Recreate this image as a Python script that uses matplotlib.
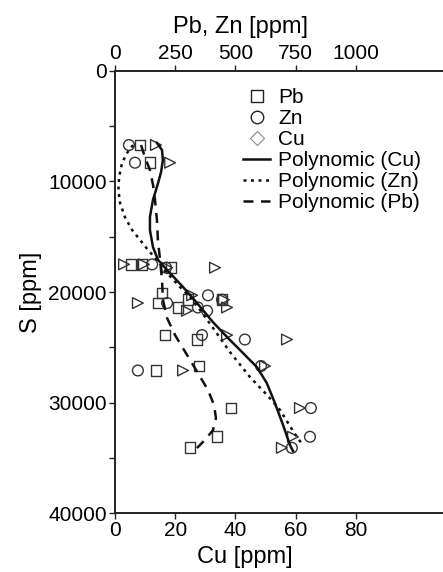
import matplotlib.pyplot as plt
import numpy as np
from matplotlib.lines import Line2D

plt.rcParams['font.family'] = ['Liberation Sans', 'DejaVu Sans']

# Pb (top axis, ppm) vs S
pb_s = [6700, 8300, 17500, 17500, 17800, 20100, 21000, 21400, 20700, 20700,
        23900, 24300, 27100, 26700, 30500, 33100, 34100]
pb_ppm = [104, 145, 66, 112, 232, 195, 178, 261, 303, 444,
          207, 340, 170, 349, 481, 423, 311]

# Zn (top axis, ppm) vs S
zn_s = [6700, 8300, 17500, 17800, 21000, 20300, 20700, 21400, 21700,
        23900, 24300, 27100, 26700, 30500, 33100, 34100]
zn_ppm = [58, 83, 154, 212, 216, 386, 444, 344, 382,
          361, 539, 95, 606, 813, 809, 734]

# Cu (bottom axis, ppm) vs S
cu_s = [6700, 8300, 17500, 17500, 17800, 17800, 21000, 20300, 21400, 21700,
        20700, 23900, 24300, 27100, 26700, 30500, 33100, 34100]
cu_ppm = [13.6, 18.3, 3.0, 9.6, 17.3, 33.2, 7.6, 25.6, 37.2, 23.9,
          36.2, 37.2, 57.1, 22.6, 49.8, 61.4, 59.1, 55.4]

# polynomial trendlines
fit_cu_s = [6500, 7150, 8050, 9140, 10140, 11670, 13210, 14390, 15930, 17100,
            18010, 19550, 20990, 22720, 24160, 25250, 26790, 28240, 30050,
            32040, 33850, 34390]
fit_cu = [13.9, 15.6, 15.9, 15.3, 14.3, 12.6, 11.6, 11.6, 12.6, 14.3,
          17.3, 22.6, 27.2, 32.5, 37.5, 41.5, 47.1, 50.4, 53.1,
          55.8, 58.1, 59.1]
fit_zn_s = [6700, 7420, 8330, 9590, 10770, 11950, 13210, 14390, 15290, 16200,
            17100, 18280, 19550, 20450, 21630, 23260, 25430, 27690, 29320,
            30680, 32130, 33120, 33850]
fit_zn = [75, 50, 29, 17, 14, 21, 41, 71, 104, 137,
          174, 216, 270, 311, 353, 407, 477, 560, 631,
          685, 726, 755, 780]
fit_pb_s = [6700, 7780, 8960, 10320, 11670, 13480, 15290, 17100, 18910, 20720,
            22350, 23890, 25700, 27330, 28870, 30230, 31400, 32490, 33390, 34120]
fit_pb = [108, 124, 145, 158, 166, 174, 178, 187, 195, 199,
          216, 249, 299, 344, 386, 411, 419, 407, 373, 340]

cu_ticks = [0, 20, 40, 60, 80]
pbzn_ticks = [0, 250, 500, 750, 1000]
s_ticks = [0, 10000, 20000, 30000, 40000]
ratio = 12.5  # Pb/Zn ppm per Cu ppm on the shared x scale

fig = plt.figure(figsize=(4.43, 5.72), dpi=100)
ax = fig.add_axes([0.2596, 0.1031, 0.7404, 0.7728])

edge = '#333333'
ax.scatter(np.array(pb_ppm) / ratio, pb_s, marker='s', s=60, facecolors='none',
           edgecolors=edge, linewidths=1.0, zorder=3)
ax.scatter(np.array(zn_ppm) / ratio, zn_s, marker='o', s=60, facecolors='none',
           edgecolors=edge, linewidths=1.0, zorder=3)
ax.scatter(cu_ppm, cu_s, marker='>', s=60, facecolors='none',
           edgecolors=edge, linewidths=1.0, zorder=3)

dot = (0, (1.2, 1.8))
dash = (0, (4, 3))
ax.plot(fit_cu, fit_cu_s, color='#111111', lw=1.8, ls='-', zorder=4)
ax.plot(np.array(fit_zn) / ratio, fit_zn_s, color='#111111', lw=1.8, ls=dot, zorder=4)
ax.plot(np.array(fit_pb) / ratio, fit_pb_s, color='#111111', lw=1.8, ls=dash, zorder=4)

ax.set_xlim(0, 108.9)
ax.set_ylim(40000, 0)
ax.set_xticks(cu_ticks)
ax.set_yticks(s_ticks)
ax.set_yticks(np.arange(5000, 40000, 10000), minor=True)
ax.set_xlabel('Cu [ppm]', fontsize=17, labelpad=4, x=0.395)
ax.set_ylabel('S [ppm]', fontsize=17, labelpad=4)
ax.tick_params(labelsize=15, length=4, width=1, color='#222222', pad=2)
ax.tick_params(which='minor', length=4, width=1, color='#222222')
ax.spines['right'].set_visible(False)
for sp in ['left', 'bottom']:
    ax.spines[sp].set_linewidth(1.4)
    ax.spines[sp].set_color('#222222')
ax.spines['top'].set_visible(False)

top = ax.secondary_xaxis('top', functions=(lambda v: v * ratio, lambda v: v / ratio))
top.set_xticks(pbzn_ticks)
top.set_xlabel('Pb, Zn [ppm]', fontsize=17, labelpad=8, x=0.384)
top.tick_params(labelsize=15, length=4, width=1, color='#222222', pad=2)
top.spines['top'].set_linewidth(1.4)
top.spines['top'].set_color('#222222')

handles = [
    Line2D([], [], marker='s', ls='none', mfc='none', mec='#222222', ms=9),
    Line2D([], [], marker='o', ls='none', mfc='none', mec='#222222', ms=9),
    Line2D([], [], marker='D', ls='none', mfc='none', mec='#888888', ms=7, mew=0.8),
    Line2D([], [], color='#111111', lw=1.8, ls='-'),
    Line2D([], [], color='#111111', lw=1.8, ls=dot),
    Line2D([], [], color='#111111', lw=1.8, ls=dash),
]
labels = ['Pb', 'Zn', 'Cu', 'Polynomic (Cu)', 'Polynomic (Zn)', 'Polynomic (Pb)']
fig.legend(handles, labels, loc='upper left', bbox_to_anchor=(243 / 443, 1 - 88 / 572),
           frameon=False, fontsize=15, handlelength=1.3, handletextpad=0.4,
           labelspacing=0.1, borderpad=0, borderaxespad=0)

fig.savefig('out.png', dpi=100)
